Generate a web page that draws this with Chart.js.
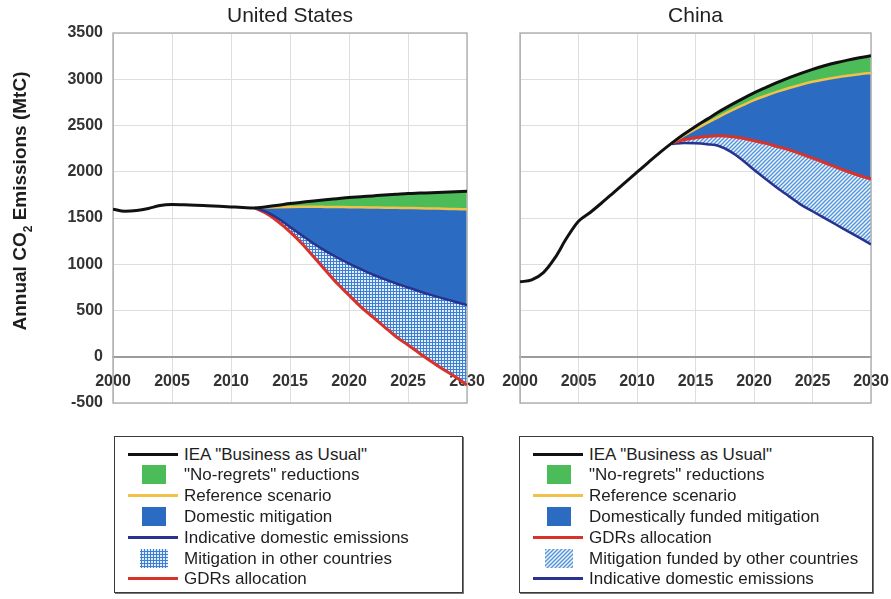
<!DOCTYPE html>
<html>
<head>
<meta charset="utf-8">
<script src="https://cdn.jsdelivr.net/npm/chart.js@4.4.1/dist/chart.umd.min.js"></script>
<style>
    body { margin: 0; background: #fff; width: 891px; height: 599px; overflow: hidden; position: relative;
           font-family: "Liberation Sans", Arial, sans-serif; }
    .panel { position: absolute; top: 0; height: 420px; }
    #us-wrap { left: 0; width: 490px; }
    #cn-wrap { left: 490px; width: 401px; }
    .legend { position: absolute; top: 436px; height: 157px; border: 1.5px solid #3a3a3a; box-sizing: border-box; background: #fff;
              box-shadow: 1px 1px 0 #777; }
    #us-legend { left: 114px; width: 349px; }
    #cn-legend { left: 519px; width: 354px; }
    .legend .row { position: absolute; left: 0; height: 21px; }
    .legend canvas { position: absolute; left: 11px; top: 0; }
    .legend span { position: absolute; left: 69px; top: 0; line-height: 21px; font-size: 17px; color: #1e1e1e; white-space: nowrap; }
</style>
</head>
<body>
<div class="panel" id="us-wrap"><canvas id="chart-us"></canvas></div>
<div class="panel" id="cn-wrap"><canvas id="chart-cn"></canvas></div>
<div class="legend" id="us-legend"></div>
<div class="legend" id="cn-legend"></div>
<script>
// --- DATOS ---
const years = [2000, 2001, 2002, 2003, 2004, 2005, 2006, 2007, 2008, 2009, 2010,
               2011, 2012, 2013, 2014, 2015, 2016, 2017, 2018, 2019, 2020,
               2021, 2022, 2023, 2024, 2025, 2026, 2027, 2028, 2029, 2030];
const yMin = -500, yMax = 3500, yStep = 500, xStep = 5;

// Estados Unidos
const usBAU = [1595, 1572, 1580, 1603, 1636, 1645, 1642, 1638, 1632, 1626, 1620,
               1614, 1609, 1622, 1638, 1656, 1670, 1684, 1697, 1709, 1721,
               1730, 1739, 1748, 1756, 1764, 1769, 1774, 1779, 1784, 1789];
const usReference = [null, null, null, null, null, null, null, null, null, null, null,
                     null, 1609, 1613, 1617, 1620, 1621, 1621, 1620, 1619, 1617,
                     1616, 1614, 1612, 1610, 1608, 1606, 1603, 1600, 1597, 1594];
const usIndicative = [null, null, null, null, null, null, null, null, null, null, null,
                      null, 1609, 1566, 1494, 1404, 1314, 1224, 1145, 1073, 1008,
                      947, 889, 839, 792, 749, 706, 666, 630, 594, 558];
const usGDRs = [null, null, null, null, null, null, null, null, null, null, null,
                null, 1609, 1548, 1458, 1350, 1224, 1080, 936, 792, 666,
                540, 432, 324, 216, 126, 36, -54, -137, -216, -306];

// China
const cnBAU = [810, 831, 910, 1071, 1286, 1465, 1560, 1665, 1775, 1885, 1995,
               2105, 2212, 2312, 2405, 2490, 2569, 2648, 2720, 2788, 2852,
               2910, 2967, 3017, 3064, 3107, 3146, 3178, 3207, 3232, 3254];
const cnReference = [null, null, null, null, null, null, null, null, null, null, null,
                     null, null, 2312, 2390, 2460, 2528, 2594, 2657, 2717, 2774,
                     2822, 2866, 2906, 2941, 2972, 2998, 3020, 3039, 3055, 3068];
const cnGDRs = [null, null, null, null, null, null, null, null, null, null, null,
                null, null, 2312, 2345, 2368, 2382, 2388, 2382, 2362, 2336,
                2308, 2272, 2236, 2193, 2147, 2100, 2050, 2003, 1960, 1921];
const cnIndicative = [null, null, null, null, null, null, null, null, null, null, null,
                      null, null, 2300, 2310, 2308, 2297, 2279, 2218, 2128, 2021,
                      1921, 1824, 1734, 1645, 1573, 1501, 1430, 1358, 1287, 1215];

const usLegendLabels = ['IEA "Business as Usual"', '"No-regrets" reductions', 'Reference scenario',
                        'Domestic mitigation', 'Indicative domestic emissions',
                        'Mitigation in other countries', 'GDRs allocation'];
const cnLegendLabels = ['IEA "Business as Usual"', '"No-regrets" reductions', 'Reference scenario',
                        'Domestically funded mitigation', 'GDRs allocation',
                        'Mitigation funded by other countries', 'Indicative domestic emissions'];

// --- ESTILO ---
const FONT = '"Liberation Sans", Arial, sans-serif';
const C = {
    bau: '#111111', green: '#4cbc58', yellow: '#f0c24a', blue: '#2c6bc2',
    navy: '#27338f', red: '#d8322a', grid: '#dedede', frame: '#b4b4b4', zero: '#9c9c9c'
};

// Tramas
const makeGridPattern = () => {
    const c = document.createElement('canvas');
    c.width = 3; c.height = 3;
    const x = c.getContext('2d');
    x.fillStyle = '#e4eefa'; x.fillRect(0, 0, 3, 3);
    x.fillStyle = '#3b7fd4'; x.fillRect(0, 0, 3, 1); x.fillRect(0, 0, 1, 3);
    return x.createPattern(c, 'repeat');
};
const makeStripePattern = () => {
    const c = document.createElement('canvas');
    c.width = 4; c.height = 4;
    const x = c.getContext('2d');
    x.fillStyle = '#f4f8fd'; x.fillRect(0, 0, 4, 4);
    x.strokeStyle = '#5596da'; x.lineWidth = 1.5;
    x.beginPath();
    x.moveTo(-1, 5); x.lineTo(5, -1);
    x.moveTo(-1, 1); x.lineTo(1, -1);
    x.moveTo(3, 5); x.lineTo(5, 3);
    x.stroke();
    return x.createPattern(c, 'repeat');
};
const gridPat = makeGridPattern();
const stripePat = makeStripePattern();

// --- PLUGINS ---
const framePlugin = {
    id: 'frame',
    beforeDatasetsDraw(chart) {
        const { ctx, chartArea: a } = chart;
        ctx.save();
        ctx.strokeStyle = C.frame; ctx.lineWidth = 1.5;
        ctx.strokeRect(a.left, a.top, a.right - a.left, a.bottom - a.top);
        ctx.restore();
    }
};

const panelTitlePlugin = {
    id: 'panelTitle',
    afterDraw(chart, args, o) {
        if (!o.text) return;
        const { ctx, chartArea: a } = chart;
        ctx.save();
        ctx.font = `21px ${FONT}`;
        ctx.fillStyle = '#222';
        ctx.textAlign = 'center';
        ctx.textBaseline = 'middle';
        ctx.fillText(o.text, (a.left + a.right) / 2, o.y);
        ctx.restore();
    }
};

const yTitlePlugin = {
    id: 'yTitle',
    afterDraw(chart, args, o) {
        if (!o.parts) return;
        const { ctx, chartArea: a } = chart;
        const big = `bold 19px ${FONT}`, small = `bold 12px ${FONT}`;
        ctx.save();
        ctx.translate(o.x, (a.top + a.bottom) / 2 + o.dy);
        ctx.rotate(-Math.PI / 2);
        ctx.fillStyle = '#1e1e1e';
        ctx.textBaseline = 'middle';
        ctx.font = big;
        const w1 = ctx.measureText(o.parts[0]).width, w3 = ctx.measureText(o.parts[2]).width;
        ctx.font = small;
        const w2 = ctx.measureText(o.parts[1]).width;
        let x0 = -(w1 + w2 + w3) / 2;
        ctx.font = big; ctx.fillText(o.parts[0], x0, 0);
        ctx.font = small; ctx.fillText(o.parts[1], x0 + w1, 8);
        ctx.font = big; ctx.fillText(o.parts[2], x0 + w1 + w2, 0);
        ctx.restore();
    }
};

// --- GRÁFICAS ---
const buildChart = (canvasId, series, opts) => {
    const datasets = series.map(s => ({
        label: s.label,
        data: years.map((yr, k) => ({ x: yr, y: s.values[k] })),
        borderColor: s.color,
        borderWidth: s.width,
        backgroundColor: s.fill || 'transparent',
        fill: s.fillTo === undefined ? false : { target: s.fillTo, above: s.fill, below: s.fill },
        pointRadius: 0,
        cubicInterpolationMode: 'monotone',
        spanGaps: false
    }));

    const tickFont = { family: FONT, size: 16, weight: 'bold' };

    return new Chart(document.getElementById(canvasId), {
        type: 'line',
        data: { datasets },
        plugins: [framePlugin, panelTitlePlugin, yTitlePlugin],
        options: {
            responsive: true,
            maintainAspectRatio: false,
            animation: false,
            layout: { padding: opts.padding },
            scales: {
                x: {
                    type: 'linear', min: years[0], max: years[years.length - 1],
                    position: { y: 0 },
                    ticks: { stepSize: xStep, padding: 15, color: '#333', font: tickFont,
                             maxRotation: 0, autoSkip: false, callback: v => String(v) },
                    grid: { color: C.grid, lineWidth: 1, drawTicks: false },
                    border: { display: true, color: C.zero, width: 2 },
                    afterFit: s => { s.paddingLeft = 0; s.paddingRight = 0; }
                },
                y: {
                    min: yMin, max: yMax,
                    ticks: { stepSize: yStep, display: opts.showY, padding: 10, color: '#333', font: tickFont,
                             callback: v => String(v) },
                    grid: { color: C.grid, lineWidth: 1, drawTicks: false },
                    border: { display: true, color: C.frame, width: 1 },
                    afterFit: s => { s.width = opts.yWidth; s.paddingTop = 0; s.paddingBottom = 0; }
                }
            },
            plugins: {
                legend: { display: false },
                tooltip: { enabled: false },
                filler: { drawTime: 'beforeDatasetsDraw' },
                panelTitle: { text: opts.title, y: 16 },
                yTitle: opts.yTitle || {}
            }
        }
    });
};

buildChart('chart-us', [
    { label: usLegendLabels[0], values: usBAU, color: C.bau, width: 3 },
    { label: usLegendLabels[2], values: usReference, color: C.yellow, width: 2.5, fillTo: 0, fill: C.green },
    { label: usLegendLabels[4], values: usIndicative, color: C.navy, width: 2.5, fillTo: 1, fill: C.blue },
    { label: usLegendLabels[6], values: usGDRs, color: C.red, width: 3, fillTo: 2, fill: gridPat }
], {
    title: 'United States', showY: true, yWidth: 113,
    padding: { top: 33, bottom: 17, left: 0, right: 23 },
    yTitle: { parts: ['Annual CO', '2', ' Emissions (MtC)'], x: 21, dy: -17 }
});

buildChart('chart-cn', [
    { label: cnLegendLabels[0], values: cnBAU, color: C.bau, width: 3 },
    { label: cnLegendLabels[2], values: cnReference, color: C.yellow, width: 2.5, fillTo: 0, fill: C.green },
    { label: cnLegendLabels[4], values: cnGDRs, color: C.red, width: 3, fillTo: 1, fill: C.blue },
    { label: cnLegendLabels[6], values: cnIndicative, color: C.navy, width: 2.5, fillTo: 2, fill: stripePat }
], {
    title: 'China', showY: false, yWidth: 0,
    padding: { top: 33, bottom: 17, left: 30, right: 20 }
});

// --- LEYENDAS ---
const drawSwatch = (cv, kind) => {
    const x = cv.getContext('2d');
    if (kind.type === 'line') {
        x.fillStyle = kind.color; x.fillRect(2, 9, 50, 3);
    } else {
        x.fillStyle = kind.color; x.fillRect(kind.type === 'hatch' ? 14 : 16, 1, kind.type === 'hatch' ? 28 : 24, 19);
    }
};

const buildLegend = (boxId, labels, kinds) => {
    const box = document.getElementById(boxId);
    labels.forEach((lab, i) => {
        const row = document.createElement('div');
        row.className = 'row';
        row.style.top = (6.5 + i * 20.8) + 'px';
        row.style.width = '100%';
        const cv = document.createElement('canvas');
        cv.width = 56; cv.height = 21;
        drawSwatch(cv, kinds[i]);
        const sp = document.createElement('span');
        sp.textContent = lab;
        row.appendChild(cv); row.appendChild(sp);
        box.appendChild(row);
    });
};

buildLegend('us-legend', usLegendLabels, [
    { type: 'line', color: C.bau }, { type: 'box', color: C.green }, { type: 'line', color: C.yellow },
    { type: 'box', color: C.blue }, { type: 'line', color: C.navy }, { type: 'hatch', color: gridPat },
    { type: 'line', color: C.red }
]);
buildLegend('cn-legend', cnLegendLabels, [
    { type: 'line', color: C.bau }, { type: 'box', color: C.green }, { type: 'line', color: C.yellow },
    { type: 'box', color: C.blue }, { type: 'line', color: C.red }, { type: 'hatch', color: stripePat },
    { type: 'line', color: C.navy }
]);
</script>
</body>
</html>
